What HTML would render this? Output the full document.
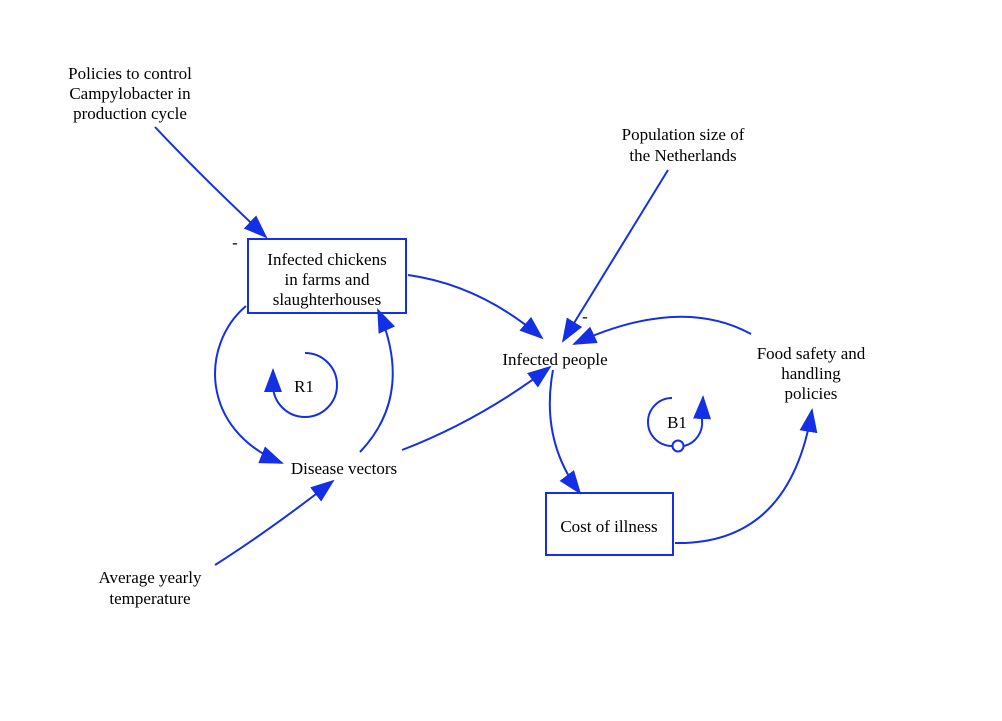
<!DOCTYPE html>
<html><head><style>
body{margin:0;background:#fff;}
</style></head><body>
<svg width="1002" height="716" viewBox="0 0 1002 716" xmlns="http://www.w3.org/2000/svg">
<defs>
<marker id="a" markerWidth="24" markerHeight="18" refX="22" refY="9" orient="auto" markerUnits="userSpaceOnUse">
<path d="M0,0 L24,9 L0,18 Z" fill="#1430e6"/>
</marker>
</defs>
<g fill="none" stroke="#1430e6" stroke-width="2">
<rect x="248" y="239" width="158" height="74"/>
<rect x="546" y="493" width="127" height="62"/>
<path d="M155,127 Q200,175 266,237" marker-end="url(#a)"/>
<path d="M408,275 Q480,285 542,338" marker-end="url(#a)"/>
<path d="M246,306 C200,345 200,430 282,463" marker-end="url(#a)"/>
<path d="M360,452 C400,410 400,360 378,310" marker-end="url(#a)"/>
<path d="M402,450 Q480,420 550,367" marker-end="url(#a)"/>
<path d="M215,565 Q270,530 333,481" marker-end="url(#a)"/>
<path d="M668,170 L563,341" marker-end="url(#a)"/>
<path d="M751,334 Q680,295 574,344" marker-end="url(#a)"/>
<path d="M553,370 Q540,440 580,493" marker-end="url(#a)"/>
<path d="M675,543 Q790,545 812,410" marker-end="url(#a)"/>
<path d="M305,353 A32,32 0 1 1 273,385" />
<path d="M273,388 L273,370" marker-end="url(#a)"/>
<path d="M672,398 A24,24 0 0 0 672,446 M684,446 A24,24 0 0 0 702,420"/>
<path d="M702,420 L703,397" marker-end="url(#a)"/>
<circle cx="678" cy="446" r="5.5" fill="#fff"/>
</g>
<g text-anchor="middle" font-family="'Liberation Serif','DejaVu Serif','Times New Roman',serif" font-size="17" fill="#000">
<text x="130" y="79">Policies to control</text>
<text x="130" y="99">Campylobacter in</text>
<text x="130" y="119">production cycle</text>
<text x="683" y="140">Population size of</text>
<text x="683" y="161">the Netherlands</text>
<text x="327" y="265">Infected chickens</text>
<text x="327" y="285">in farms and</text>
<text x="327" y="305">slaughterhouses</text>
<text x="555" y="365">Infected people</text>
<text x="811" y="359">Food safety and</text>
<text x="811" y="379">handling</text>
<text x="811" y="399">policies</text>
<text x="304" y="392">R1</text>
<text x="677" y="428">B1</text>
<text x="344" y="474">Disease vectors</text>
<text x="609" y="532">Cost of illness</text>
<text x="150" y="583">Average yearly</text>
<text x="150" y="604">temperature</text>
<text x="235" y="248">-</text>
<text x="585" y="322">-</text>
</g>
</svg>
</body></html>
